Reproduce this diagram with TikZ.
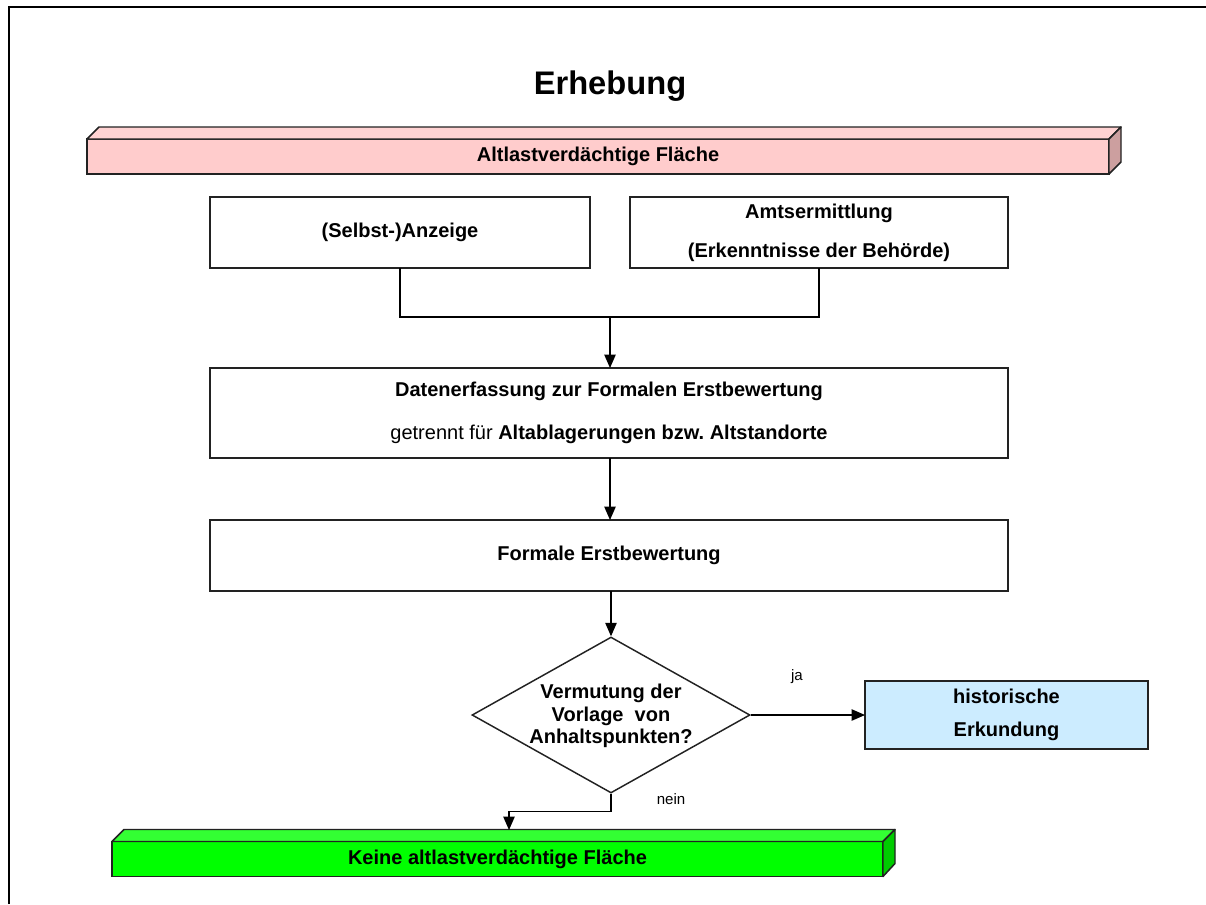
\documentclass[tikz,border=0pt]{standalone}
\usepackage{fontspec}
\setmainfont{Liberation Sans}
\usetikzlibrary{shapes.geometric,arrows.meta,calc}
\frenchspacing

\definecolor{pinkfront}{HTML}{FFCCCC}
\definecolor{pinktop}{HTML}{FFD2D2}
\definecolor{pinkside}{HTML}{CC9F9F}
\definecolor{greenfront}{HTML}{00FF00}
\definecolor{greentop}{HTML}{33FF33}
\definecolor{greenside}{HTML}{00CC00}
\definecolor{bluebox}{HTML}{CCECFF}
\definecolor{edge}{HTML}{222222}

\begin{document}
\begin{tikzpicture}[x=0.75pt,y=-0.75pt,
  lbl/.style={font=\fontsize{15}{20}\selectfont\bfseries},
  box/.style={draw=edge, line width=1.1pt, fill=white, inner sep=0pt,
    outer sep=0pt, align=center, lbl},
  bar/.style={draw=edge, line width=1.1pt, inner sep=0pt, outer sep=0pt,
    minimum height=35*0.75pt, lbl},
  face/.style={draw=edge, line width=1.1pt, line join=round},
  conn/.style={line width=0.9pt, black},
  arr/.style={conn, -{Triangle[length=10pt,width=8.5pt]}},
  small/.style={font=\fontsize{11.3}{14}\selectfont}
]
\useasboundingbox (0,0) rectangle (1206,904);
\fill[white] (0,0) rectangle (1206,904);

% outer frame
\draw[line width=1.6pt] (9,904) -- (9,7) -- (1206,7);

% title
\node[font=\fontsize{24.5}{30}\selectfont\bfseries] (title) at (610,86) {Erhebung};

% top bar
\node[bar, fill=pinkfront, minimum width=1022*0.75pt] (pb) at (598,156.5)
  {Altlastverdächtige Fläche};
\filldraw[face, fill=pinktop] (pb.north west) -- ++(12,-12)
  -- ($(pb.north east)+(12,-12)$) -- (pb.north east) -- cycle;
\filldraw[face, fill=pinkside] (pb.north east) -- ++(12,-12) -- ++(0,35)
  -- (pb.south east) -- cycle;

% sources
\node[box, minimum width=380*0.75pt, minimum height=71*0.75pt] (sa) at (400,232.5)
  {(Selbst-)Anzeige};
\node[box, minimum width=378*0.75pt, minimum height=71*0.75pt] (am) at (819,232.5)
  {Amtsermittlung\\[9pt](Erkenntnisse der Behörde)};

% data capture and first assessment
\node[box, minimum width=798*0.75pt, minimum height=90*0.75pt] (de) at (609,413)
  {Datenerfassung zur Formalen Erstbewertung\\[12pt]
   \mdseries getrennt für \bfseries Altablagerungen bzw. Altstandorte};
\node[box, minimum width=798*0.75pt, minimum height=71*0.75pt] (fe) at (609,555.5)
  {Formale Erstbewertung};

% decision
\node[draw=edge, line width=1.1pt, diamond, fill=white, inner sep=0pt,
  minimum width=278*0.75pt, minimum height=156*0.75pt] (dq) at (611,715) {};
\node[lbl, align=center, font=\fontsize{15}{16.8}\selectfont\bfseries] (dqt) at (611,716)
  {Vermutung der\\Vorlage\ \ von\\Anhaltspunkten?};

% historical investigation
\node[box, fill=bluebox, minimum width=283*0.75pt, minimum height=68*0.75pt] (hk) at (1006.5,715)
  {historische\\[5pt]Erkundung};

% bottom bar
\node[bar, fill=greenfront, minimum width=771*0.75pt] (gb) at (497.5,859)
  {Keine altlastverdächtige Fläche};
\filldraw[face, fill=greentop] (gb.north west) -- ++(12,-12)
  -- ($(gb.north east)+(12,-12)$) -- (gb.north east) -- cycle;
\filldraw[face, fill=greenside] (gb.north east) -- ++(12,-12) -- ++(0,34)
  -- (gb.south east) -- cycle;

% connectors
\coordinate (j) at (610,317);
\coordinate (gin) at (509,830);
\draw[conn] (sa.south) |- (j) -| (am.south);
\draw[arr] (j) -- (j |- de.north);
\draw[arr] (de.south -| j) -- (fe.north -| j);
\draw[arr] (fe.south -| dq.north) -- (dq.north);
\draw[arr] (dq.east) -- (hk.west);
\draw[arr] (dq.south) |- ($(dq.south)!.5!(gin)$) -| (gin);

% branch labels
\node[small] (ja) at (797,677) {ja};
\node[small] (nein) at (671,799) {nein};
\end{tikzpicture}
\end{document}
